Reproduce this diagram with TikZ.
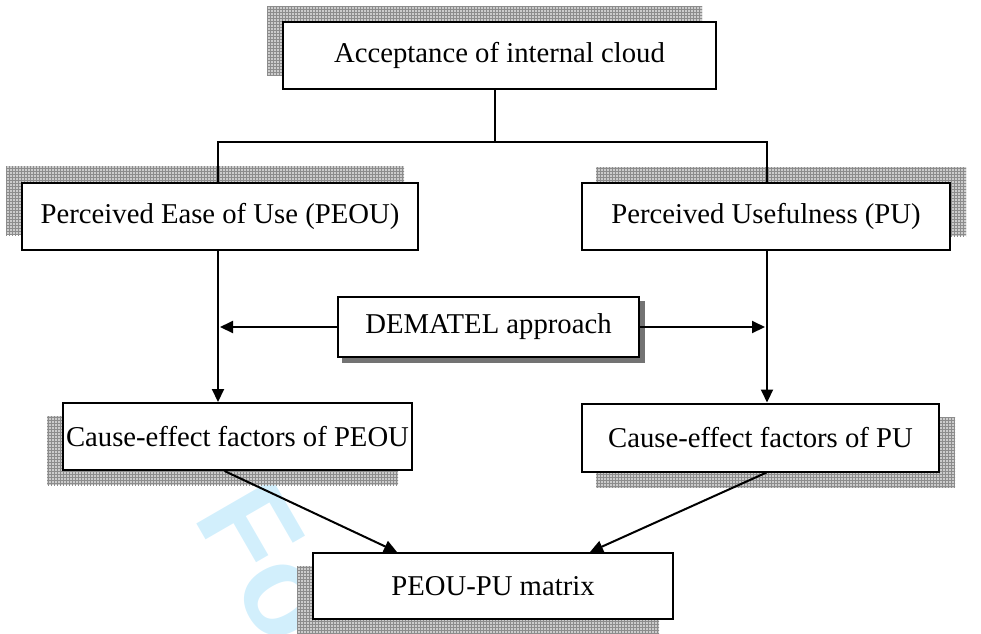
\documentclass[tikz,border=0pt]{standalone}
\usepackage{fontspec}
\setmainfont{Liberation Serif}
\newfontfamily\wmfam{Liberation Sans}
\usetikzlibrary{arrows.meta,calc,patterns,backgrounds}
\definecolor{wmblue}{HTML}{D2EFFC}
\tikzset{
  box/.style={draw, line width=2pt, fill=white, inner sep=0pt, minimum height=67pt,
              font=\fontsize{28.7}{30}\selectfont},
  conn/.style={line width=2pt},
  arr/.style={line width=2pt, -{Triangle[length=13pt,width=12pt]}},
  gridshadow/.style={fill=black!20, postaction={pattern=grid, pattern color=black!45}},
  solidshadow/.style={fill=black!55}
}
\begin{document}
\begin{tikzpicture}[x=1pt,y=-1pt]
\useasboundingbox (0,0) rectangle (981,633);
% nodes
\node[box, minimum width=433pt] (a) at (499.5,55.5) {Acceptance of internal cloud};
\node[box, minimum width=396pt] (peou) at (220,216.5) {Perceived Ease of Use (PEOU)};
\node[box, minimum width=368pt] (pu) at (766,216.5) {Perceived Usefulness (PU)};
\node[box, minimum width=301pt, minimum height=60pt] (dem) at (488.5,327) {DEMATEL approach};
\node[box, minimum width=349pt] (cpeou) at (237.5,436.5) {Cause-effect factors of PEOU};
\node[box, minimum width=357pt, minimum height=68pt] (cpu) at (760.5,437.5) {Cause-effect factors of PU};
\node[box, minimum width=360pt, minimum height=66pt] (m) at (493,586) {PEOU-PU matrix};
% background: watermark and shadows
\begin{pgfonlayer}{background}
  \begin{scope}
    \clip (0,0) rectangle (981,633);
    \node[rotate=-60, anchor=base west, inner sep=0pt, text=wmblue,
          font=\wmfam\bfseries\fontsize{128}{128}\selectfont] (wm) at (192,516) {Fo};
  \end{scope}
  \foreach \n/\dx/\dy in {a/-15/-15, peou/-15/-16, pu/15/-15, cpeou/-15/14, cpu/15/15, m/-15/14} {
    \path[gridshadow] ($(\n.south west)+(\dx,\dy)$) rectangle ($(\n.north east)+(\dx,\dy)$);
  }
  \path[solidshadow] ($(dem.south west)+(5,5)$) rectangle ($(dem.north east)+(5,5)$);
\end{pgfonlayer}
% connectors
\coordinate (top) at (495,142);
\coordinate (hl) at (218,142);
\coordinate (hr) at (767,142);
\draw[conn] (a.south -| top) -- (top);
\draw[conn] (hl |- peou.north) -- (hl) -- (hr) -- (hr |- pu.north);
\draw[arr] (hl |- peou.south) -- (hl |- cpeou.north);
\draw[arr] (hr |- pu.south) -- (hr |- cpu.north);
\draw[arr] (dem.west) -- ($(hl |- dem.west)+(2,0)$);
\draw[arr] (dem.east) -- ($(hr |- dem.east)+(-2,0)$);
\draw[arr] ($(cpeou.south)+(-13,0)$) -- ($(m.north)+(-96,0)$);
\draw[arr] ($(cpu.south)+(6,0)$) -- ($(m.north)+(97,0)$);
\end{tikzpicture}
\end{document}
